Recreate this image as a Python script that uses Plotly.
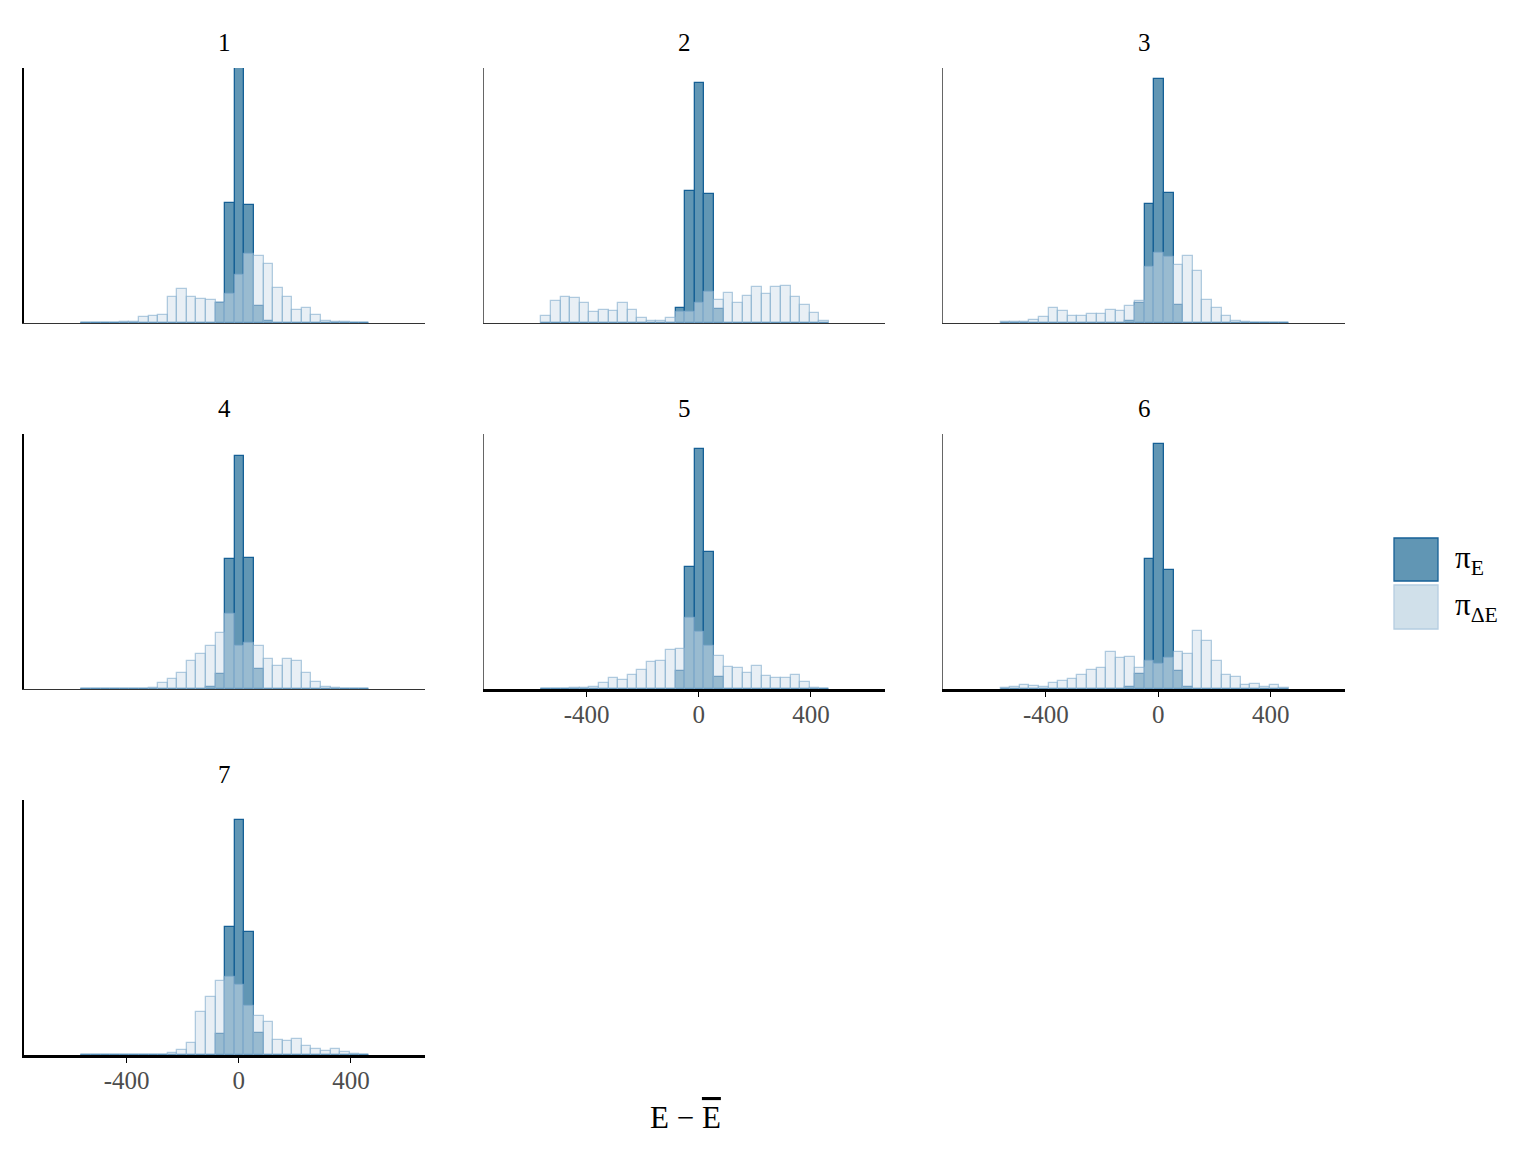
import numpy as np
import plotly.graph_objects as go
from plotly.subplots import make_subplots

# --- данные: 30 общих бинов гистограммы по E - mean(E) ---
bin_lo, bin_hi, n_bins = -561.0, 464.0, 30
panels = ["1", "2", "3", "4", "5", "6", "7"]

# π_E (тёмные столбцы), высоты в условных единицах (максимум панели 1 = 100)
pi_e = [
    [0]*14 + [7.8, 47.1, 100.0, 46.1, 6.5, 0.9] + [0]*10,
    [0]*14 + [5.9, 51.6, 94.1, 50.6, 5.6, 0] + [0]*10,
    [0]*13 + [0.6, 7.7, 46.7, 95.7, 51.0, 6.9, 0] + [0]*10,
    [0]*13 + [0.9, 5.9, 50.8, 91.5, 51.4, 7.8, 0] + [0]*10,
    [0]*14 + [7.2, 48.0, 94.0, 53.9, 4.6, 0] + [0]*10,
    [0]*13 + [0.7, 6.0, 50.8, 95.9, 46.8, 6.9, 0.7] + [0]*10,
    [0]*14 + [8.1, 50.3, 92.2, 48.2, 8.6, 0] + [0]*10,
]

# π_ΔE (светлые столбцы)
pi_de = [
    [0.1, 0.1, 0.1, 0.1, 0.2, 0.4, 2.2, 2.6, 3.1, 10.2, 13.2, 10.1, 9.4, 9.0, 7.8,
     11.5, 18.7, 27.1, 26.1, 23.1, 13.6, 10.1, 5.1, 5.9, 3.3, 0.9, 0.4, 0.2, 0.1, 0.1],
    [2.6, 8.8, 10.2, 9.8, 7.7, 4.2, 5.1, 4.7, 8.0, 5.1, 1.8, 0.9, 0.7, 2.0, 4.2,
     4.2, 8.0, 12.2, 9.2, 11.9, 7.8, 10.6, 14.1, 11.2, 14.1, 14.5, 10.1, 6.9, 3.9, 0.9],
    [0.2, 0.2, 0.4, 1.3, 2.5, 5.9, 4.7, 2.7, 2.7, 3.4, 3.4, 5.1, 4.7, 6.5, 8.5,
     21.8, 27.5, 26.0, 22.9, 26.4, 20.3, 9.2, 5.8, 2.6, 0.8, 0.2, 0.1, 0.1, 0.1, 0.1],
    [0.1, 0.1, 0.1, 0.1, 0.1, 0.1, 0.1, 0.2, 2.4, 3.9, 6.4, 11.1, 13.6, 16.7, 21.8,
     29.4, 16.9, 17.9, 17.0, 11.6, 9.0, 11.8, 11.1, 6.4, 2.7, 0.8, 0.2, 0.1, 0.1, 0.1],
    [0.1, 0.1, 0.1, 0.2, 0.5, 0.6, 2.2, 4.2, 3.7, 5.4, 7.3, 10.5, 10.8, 15.3, 15.6,
     27.7, 22.5, 16.7, 13.1, 8.8, 8.1, 6.3, 9.2, 5.1, 4.2, 4.2, 5.6, 2.6, 0.3, 0.1],
    [0.4, 0.7, 1.6, 1.0, 0.7, 2.5, 3.0, 3.9, 5.4, 7.6, 8.4, 14.4, 12.0, 12.5, 8.2,
     11.0, 9.9, 12.0, 14.6, 13.9, 22.6, 19.0, 10.8, 5.5, 4.6, 1.6, 2.1, 0.8, 1.4, 0.4],
    [0.1, 0.1, 0.1, 0.1, 0.1, 0.1, 0.1, 0.1, 0.1, 0.7, 1.8, 4.8, 17.0, 22.6, 28.9,
     30.5, 27.3, 19.1, 15.2, 12.9, 5.8, 5.4, 6.4, 3.5, 2.2, 1.6, 2.5, 1.0, 0.4, 0.1],
]

tick_vals = [-400, 0, 400]
tick_text = ["-400", "0", "400"]

edges = np.linspace(bin_lo, bin_hi, n_bins + 1)
centers = (edges[:-1] + edges[1:]) / 2
bin_w = edges[1] - edges[0]

# страница добавляет отступ 8px у body, поэтому фигура чуть меньше окна
OFF = 8
W, H = 1536 - 2 * OFF, 1152 - 2 * OFF
FONT = "Liberation Serif"
DARK_FILL = "rgb(97,150,180)"
DARK_LINE = "rgb(22,96,150)"
LIGHT_FILL = "rgba(209,224,236,0.5)"
LIGHT_LINE = "rgba(130,172,205,0.6)"

# положение панелей в пикселях окна
col_x = [(24, 425), (484, 885), (943, 1345)]
row_y = [(68, 323), (434, 689), (800, 1055)]
title_y = [42, 408, 774]


def px_x(v):
    return (v - OFF) / W


def px_y(v):
    return 1 - (v - OFF) / H


fig = make_subplots(rows=3, cols=3)

for i, name in enumerate(panels):
    r, c = i // 3 + 1, i % 3 + 1
    fig.add_trace(go.Bar(
        x=centers, y=pi_e[i], width=bin_w,
        marker=dict(color=DARK_FILL, line=dict(color=DARK_LINE, width=1.3)),
        showlegend=False, name="π_E",
    ), row=r, col=c)
    fig.add_trace(go.Bar(
        x=centers, y=pi_de[i], width=bin_w,
        marker=dict(color=LIGHT_FILL, line=dict(color=LIGHT_LINE, width=1.3)),
        showlegend=False, name="π_ΔE",
    ), row=r, col=c)

layout = dict(
    width=W, height=H,
    margin=dict(l=0, r=0, t=0, b=0),
    plot_bgcolor="white", paper_bgcolor="white",
    barmode="overlay", bargap=0,
    font=dict(family=FONT, color="black"),
    annotations=[], shapes=[],
)

for k in range(9):
    r, c = k // 3, k % 3
    sx = "" if k == 0 else str(k + 1)
    x0, x1 = col_x[c]
    y0, y1 = row_y[r]
    visible = k < len(panels)
    bottom = k >= 4  # нижние панели в каждом столбце
    left = c == 0
    layout["xaxis" + sx] = dict(
        domain=[px_x(x0), px_x(x1)], range=[-766, 664], visible=visible,
        showgrid=False, zeroline=False, showline=True,
        linecolor="black" if bottom else "#333333",
        linewidth=2.5 if bottom else 1,
        ticks="outside" if bottom else "", ticklen=5, tickwidth=1.2, tickcolor="black",
        tickvals=tick_vals, ticktext=tick_text, showticklabels=bottom,
        ticklabelstandoff=-4,
        tickfont=dict(family=FONT, size=25, color="#4d4d4d"),
    )
    layout["yaxis" + sx] = dict(
        domain=[px_y(y1), px_y(y0)], range=[0, 100], visible=visible,
        showgrid=False, zeroline=False, showline=True,
        linecolor="black" if left else "#666666",
        linewidth=2 if left else 1,
        ticks="", showticklabels=False,
    )
    if visible:
        layout["annotations"].append(dict(
            text=panels[k], x=px_x((x0 + x1) / 2), y=px_y(title_y[r]),
            xanchor="center", yanchor="middle",
            xref="paper", yref="paper", showarrow=False,
            font=dict(family=FONT, size=25, color="black"),
        ))

# подпись оси x
layout["annotations"].append(dict(
    text="E − <span style='text-decoration:overline'>E</span>",
    x=px_x(685), y=px_y(1117), xanchor="center", yanchor="middle",
    xref="paper", yref="paper", showarrow=False,
    font=dict(family=FONT, size=31, color="black"),
))

# легенда: крупные ключи как в исходнике
legend_items = [
    ("π<sub>E</sub>", "rgb(97,150,180)", DARK_LINE, 538, 581),
    ("π<sub>ΔE</sub>", "rgb(208,224,234)", "rgb(180,205,225)", 585, 629),
]
for label, fill, line, ya, yb in legend_items:
    layout["shapes"].append(dict(
        type="rect", xref="paper", yref="paper",
        x0=px_x(1394), x1=px_x(1438), y0=px_y(yb), y1=px_y(ya),
        fillcolor=fill, line=dict(color=line, width=1.3),
    ))
    layout["annotations"].append(dict(
        text=label, x=px_x(1453), y=px_y((ya + yb) / 2),
        xanchor="left", yanchor="middle",
        xref="paper", yref="paper", showarrow=False,
        font=dict(family=FONT, size=31, color="black"),
    ))

fig.update_layout(**layout)
fig.write_html("out.html")
